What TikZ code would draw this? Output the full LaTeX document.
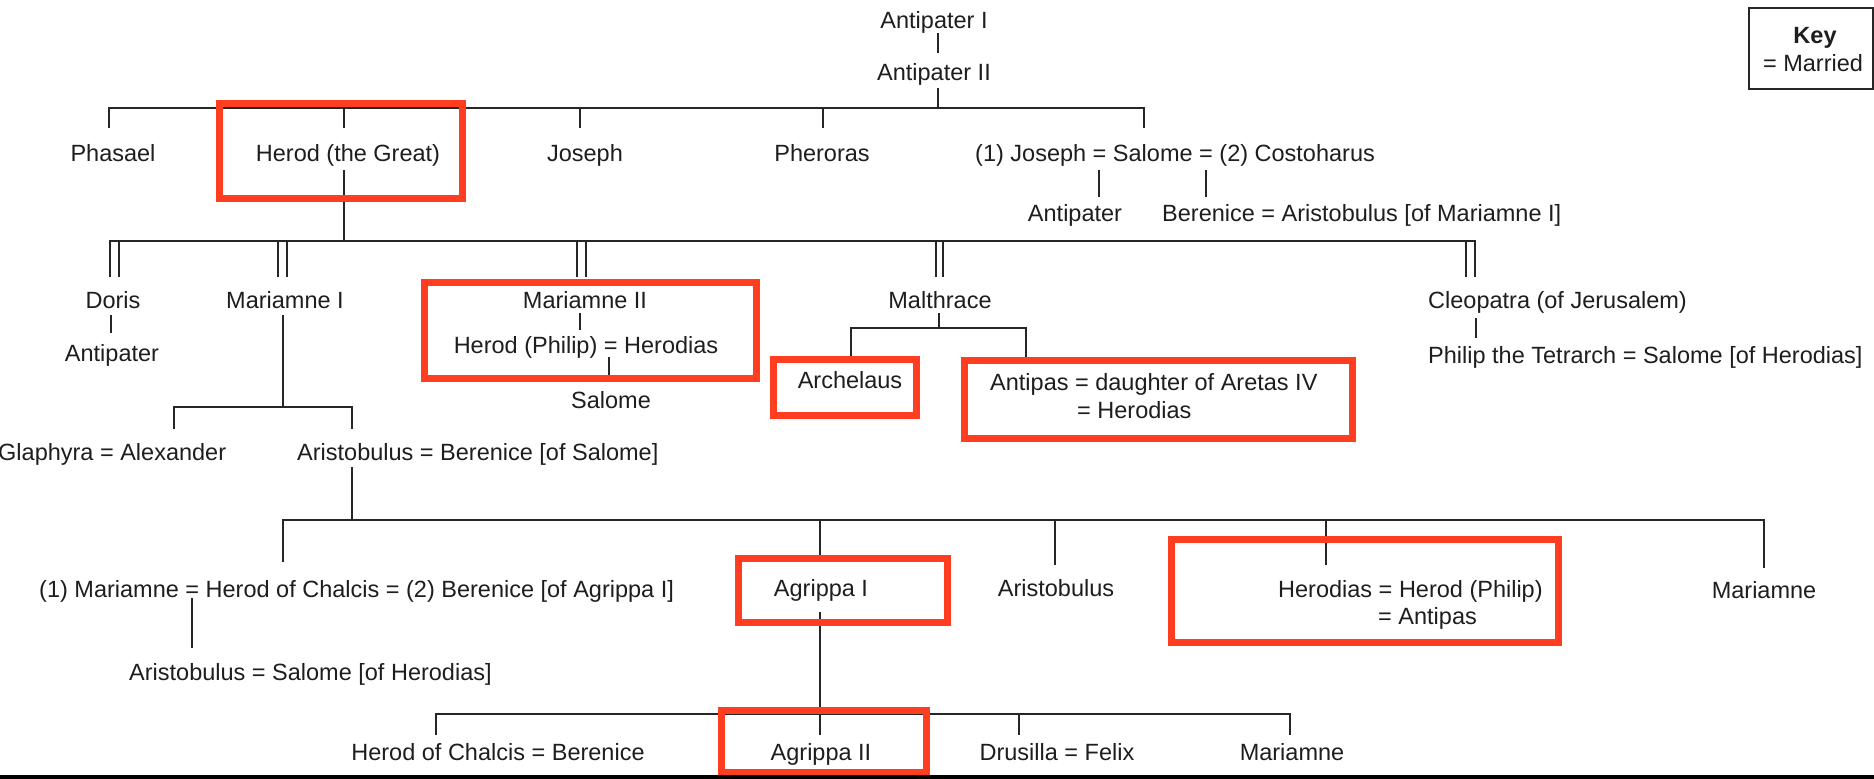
\documentclass[tikz,border=0pt]{standalone}
\usepackage{fontspec}
\setmainfont{Liberation Sans}
\definecolor{hlred}{RGB}{255,61,32}
\definecolor{ink}{RGB}{30,30,30}
\newcommand{\linedown}[5]{\draw[ln] ([xshift=#3pt,yshift=-#4pt]#1.#2) -- ++(0,#5);}
\newcommand{\lineup}[5]{\draw[ln] ([xshift=#3pt,yshift=#4pt]#1.#2) -- ++(0,-#5);}
\begin{document}
\begin{tikzpicture}[x=1pt,y=-1pt,
  nm/.style={inner sep=0pt, text height=17pt, text depth=0pt, text=ink, font=\fontsize{23.5}{28}\selectfont},
  ln/.style={draw=black!85, line width=2pt},
  bus/.style={draw=black!85, line width=2pt, line cap=rect},
  hl/.style={draw=hlred, line width=7pt},
]
\fill[white] (0,0) rectangle (1874,779);
\useasboundingbox (0,0) rectangle (1874,779);

% ---------- text nodes ----------
\node[nm] (antI) at (934,20) {Antipater I};
\node[nm] (antII) at (934,72) {Antipater II};
\node[nm] (phasael) at (113,153) {Phasael};
\node[nm] (herod) at (348,153) {Herod (the Great)};
\node[nm] (joseph) at (585,153) {Joseph};
\node[nm] (pheroras) at (822,153) {Pheroras};
\node[nm,anchor=west] (salomeG) at (975,153) {(1) Joseph = Salome = (2) Costoharus};
\node[nm] (antipaterS) at (1075,213) {Antipater};
\node[nm,anchor=west] (bereniceA) at (1162,213) {Berenice = Aristobulus [of Mariamne I]};
\node[nm] (doris) at (113,300) {Doris};
\node[nm] (antipaterD) at (112,353) {Antipater};
\node[nm] (mariamneI) at (285,300) {Mariamne I};
\node[nm,anchor=west] (glaphyra) at (-2,452) {Glaphyra = Alexander};
\node[nm,anchor=west] (aristobulusA) at (297,452) {Aristobulus = Berenice [of Salome]};
\node[nm] (mariamneII) at (585,300) {Mariamne II};
\node[nm] (herodPhilip) at (586,345) {Herod (Philip) = Herodias};
\node[nm] (salomeH) at (611,400) {Salome};
\node[nm] (malthrace) at (940,300) {Malthrace};
\node[nm] (archelaus) at (850,380) {Archelaus};
\node[nm,anchor=west] (antipas) at (990,382) {Antipas = daughter of Aretas IV};
\node[nm,anchor=west] (antipasB) at (1077,410) {= Herodias};
\node[nm,anchor=west] (cleopatra) at (1428,300) {Cleopatra (of Jerusalem)};
\node[nm,anchor=west] (philip) at (1428,355) {Philip the Tetrarch = Salome [of Herodias]};
\node[nm,anchor=west] (chalcis) at (39,589) {(1) Mariamne = Herod of Chalcis = (2) Berenice [of Agrippa I]};
\node[nm,anchor=west] (aristobulusB) at (129,672) {Aristobulus = Salome [of Herodias]};
\node[nm] (agrippaI) at (821,588) {Agrippa I};
\node[nm] (aristobulusC) at (1056,588) {Aristobulus};
\node[nm,anchor=west] (herodias) at (1278,589) {Herodias = Herod (Philip)};
\node[nm,anchor=west] (herodiasB) at (1378,616) {= Antipas};
\node[nm] (mariamneC) at (1764,590) {Mariamne};
\node[nm] (chalcisB) at (498,752) {Herod of Chalcis = Berenice};
\node[nm] (agrippaII) at (821,752) {Agrippa II};
\node[nm] (drusilla) at (1057,752) {Drusilla = Felix};
\node[nm] (mariamneD) at (1292,752) {Mariamne};

% key
\node[nm,font=\fontsize{23.5}{28}\selectfont\bfseries] (keyT) at (1815,35) {Key};
\node[nm] (keyM) at (1813,63) {= Married};
\draw[line width=2pt, draw=black!85] (1749,8) rectangle (1873,89);

% ---------- bus coordinates ----------
\coordinate (b1L) at (109,108);  \coordinate (b1R) at (1144,108);
\coordinate (b2L) at (110,241);  \coordinate (b2R) at (1475,241);
\coordinate (b3L) at (174,407);  \coordinate (b3R) at (352,407);
\coordinate (b4L) at (283,520);  \coordinate (b4R) at (1764,520);
\coordinate (b5L) at (436,714);  \coordinate (b5R) at (1290,714);
\coordinate (b6L) at (851,328);  \coordinate (b6R) at (1026,328);
\draw[bus] (b1L) -- (b1R);
\draw[bus] (b2L) -- (b2R);
\draw[bus] (b3L) -- (b3R);
\draw[bus] (b4L) -- (b4R);
\draw[bus] (b5L) -- (b5R);
\draw[bus] (b6L) -- (b6R);

% ---------- connectors ----------
\linedown{antI}{south}{4}{4.5}{20}
\linedown{antII}{south}{4}{7.5}{20}
\lineup{phasael}{north}{-4}{16.5}{20}
\lineup{herod}{north}{-4}{16.5}{20}
\lineup{joseph}{north}{-5}{16.5}{20}
\lineup{pheroras}{north}{1}{16.5}{20}
\lineup{salomeG}{north west}{169}{16.5}{20}
\linedown{salomeG}{south west}{124}{8.5}{27}
\linedown{salomeG}{south west}{231}{8.5}{27}
\linedown{herod}{south}{-4}{8.5}{71}

\lineup{doris}{north}{-3}{14.5}{36}
\lineup{doris}{north}{6}{14.5}{36}
\lineup{mariamneI}{north}{-7}{14.5}{36}
\lineup{mariamneI}{north}{2}{14.5}{36}
\lineup{mariamneII}{north}{-8}{14.5}{36}
\lineup{mariamneII}{north}{1}{14.5}{36}
\lineup{malthrace}{north}{-4}{14.5}{36}
\lineup{malthrace}{north}{3}{14.5}{36}
\lineup{cleopatra}{north west}{38}{14.5}{36}
\lineup{cleopatra}{north west}{47}{14.5}{36}

\linedown{doris}{south}{-2}{6.5}{18}
\linedown{mariamneI}{south}{-2}{6.5}{92}
\lineup{glaphyra}{north west}{176}{14.5}{22}
\lineup{aristobulusA}{north west}{55}{14.5}{22}
\linedown{aristobulusA}{south west}{55}{6.5}{53}

\linedown{mariamneII}{south}{-5}{4.5}{17}
\linedown{herodPhilip}{south}{23}{3.5}{18}
\linedown{malthrace}{south}{-1}{4.5}{15}
\lineup{archelaus}{north}{1}{14.5}{29}
\lineup{antipas}{north west}{36}{16.5}{29}
\linedown{cleopatra}{south west}{48}{9.5}{20}

\lineup{chalcis}{north west}{244}{18.5}{42}
\lineup{agrippaI}{north}{-1}{22.5}{37}
\lineup{aristobulusC}{north}{-1}{14.5}{45}
\lineup{herodias}{north west}{48}{15.5}{45}
\lineup{mariamneC}{north}{0}{13.5}{48}
\linedown{chalcis}{south west}{153}{0}{50}
\linedown{agrippaI}{south}{-1}{15.5}{123}

\lineup{chalcisB}{north}{-62}{8.5}{21}
\lineup{drusilla}{north}{-38}{8.5}{21}
\lineup{mariamneD}{north}{-2}{8.5}{21}

% ---------- highlight boxes ----------
\draw[hl] (219.5,103.5) rectangle (462.5,198.5);
\draw[hl] (424.5,282.5) rectangle (756.5,378.5);
\draw[hl] (773.5,359.5) rectangle (916.5,415.5);
\draw[hl] (964.5,360.5) rectangle (1352.5,438.5);
\draw[hl] (738.5,558.5) rectangle (947.5,622.5);
\draw[hl] (1171.5,539.5) rectangle (1558.5,642.5);
\draw[hl] (721.5,710.5) rectangle (926.5,772);

% bottom band
\fill[black] (0,775) rectangle (1874,779);
\end{tikzpicture}
\end{document}
